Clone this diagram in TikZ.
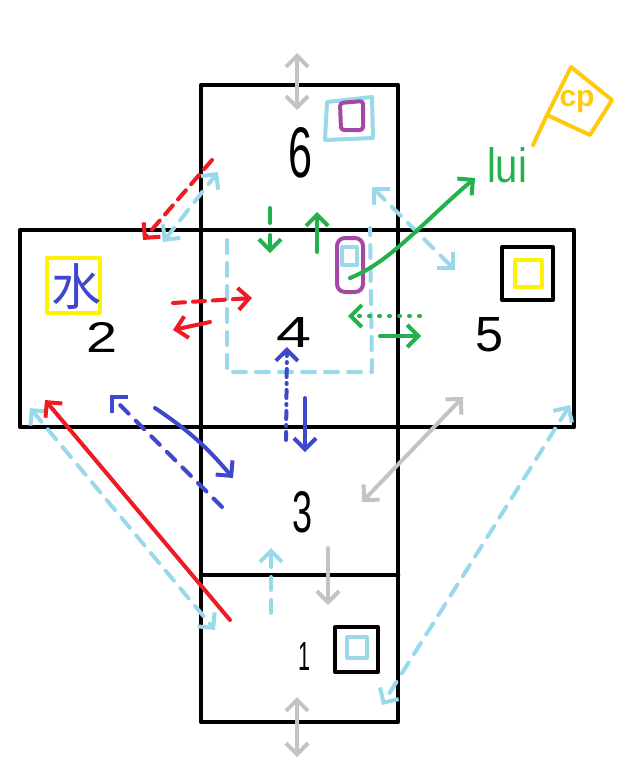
\documentclass[tikz,border=0pt]{standalone}
\usepackage{fontspec}
\usepackage{graphicx}
\setmainfont{Liberation Sans}
\newfontfamily\cjkfont{Noto Sans CJK SC}
\usetikzlibrary{arrows.meta}
\definecolor{cred}{HTML}{ED1C24}
\definecolor{cblue}{HTML}{3F48CC}
\definecolor{clblue}{HTML}{99D9EA}
\definecolor{cgray}{HTML}{C3C3C3}
\definecolor{cgreen}{HTML}{22B14C}
\definecolor{cpurple}{HTML}{A349A4}
\definecolor{cyellow}{HTML}{FFF200}
\definecolor{cgold}{HTML}{FFC90E}
\tikzset{
  frame/.style={draw=black,line width=4.5pt,line cap=round,line join=round},
  pen/.style={line width=4pt,line cap=round,line join=round},
  icon/.style={line width=4pt,line cap=round,line join=round},
  lbdash/.style={dash pattern=on 13pt off 10pt},
  rdash/.style={dash pattern=on 12pt off 8pt},
  bdash/.style={dash pattern=on 12pt off 10pt},
  bdot/.style={dash pattern=on 8pt off 6pt on 1pt off 6pt},
  gdot/.style={dash pattern=on 1pt off 9pt},
  gshort/.style={dash pattern=on 15pt off 12pt},
  lab/.style={inner sep=0pt,text=black},
  >={Straight Barb[length=11pt,width=22pt]}
}
\begin{document}
\begin{tikzpicture}[x=1pt,y=-1pt]
\useasboundingbox (0,0) rectangle (634,763);
% ---- cube net frames ----
\draw[frame] (201,85) rectangle (398,722);
\draw[frame] (20,230) rectangle (574,427);
\draw[frame] (201,575) -- (398,575);
% ---- face labels ----
\node[lab] (f6) at (300,153) {\resizebox{24pt}{50pt}{6}};
\node[lab] (f2) at (102,337) {\resizebox{31pt}{30pt}{2}};
\node[lab] (f4) at (294,332) {\resizebox{35pt}{30pt}{4}};
\node[lab] (f5) at (489,335) {\resizebox{28pt}{34pt}{5}};
\node[lab] (f3) at (302,512) {\resizebox{20pt}{41pt}{3}};
\node[lab] (f1) at (304,656) {\resizebox{12pt}{28pt}{1}};
% ---- icons ----
\draw[icon,clblue] (327,102) -- (372,97) -- (373,138) -- (325,140) -- cycle;
\draw[icon,cpurple,rounded corners=3pt] (340,103) -- (363,101) -- (363,130) -- (341,130) -- cycle;
\draw[icon,cpurple,rounded corners=8pt] (337,238) rectangle (363,292);
\draw[icon,clblue] (342,247) rectangle (357,265);
\draw[icon,black] (502,247) rectangle (553,300);
\draw[icon,cyellow] (515,260) rectangle (542,287);
\draw[icon,cyellow] (47,258) rectangle (100,313);
\node[inner sep=0pt,text=cblue] (water) at (76,287) {\cjkfont\fontsize{50}{50}\selectfont 水};
\draw[icon,black] (335,627) rectangle (378,672);
\draw[icon,clblue] (347,637) rectangle (367,658);
% ---- flag ----
\draw[icon,cgold] (533,145) -- (547,115) -- (571,67) -- (612,100) -- (590,135) -- (547,115);
\node[inner sep=0pt,text=cgold] (cp) at (577,102) {\fontsize{30}{30}\selectfont\bfseries cp};
\node[inner sep=0pt,text=cgreen] (lui) at (507,165) {\resizebox{40pt}{35pt}{lui}};
% ---- coordinates ----
\coordinate (g1a) at (297,53);  \coordinate (g1b) at (297,110);
\coordinate (g2a) at (297,697); \coordinate (g2b) at (297,757);
\coordinate (g3a) at (463,397); \coordinate (g3b) at (362,502);
\coordinate (g4a) at (328,548); \coordinate (g4b) at (328,605);
\coordinate (lb1a) at (570,405); \coordinate (lb1b) at (382,705);
\coordinate (lb2a) at (271,613); \coordinate (lb2b) at (271,548);
\coordinate (lb3a) at (30,408);  \coordinate (lb3b) at (215,630);
\coordinate (lb4a) at (163,242); \coordinate (lb4b) at (218,172);
\coordinate (lb5a) at (372,187); \coordinate (lb5b) at (455,270);
\coordinate (u1) at (227,240); \coordinate (u2) at (227,372);
\coordinate (u3) at (372,372); \coordinate (u4) at (370,228);
\coordinate (r1a) at (230,620); \coordinate (r1b) at (45,400);
\coordinate (r2a) at (212,160); \coordinate (r2b) at (143,240);
\coordinate (r3a) at (173,303); \coordinate (r3b) at (252,298);
\coordinate (r4a) at (210,322); \coordinate (r4b) at (173,330);
\coordinate (b1a) at (155,408); \coordinate (b1b) at (233,478);
\coordinate (b2a) at (222,507); \coordinate (b2b) at (110,395);
\coordinate (b3a) at (286,440); \coordinate (b3b) at (287,347);
\coordinate (b4a) at (305,398); \coordinate (b4b) at (305,452);
\coordinate (gr1a) at (270,208); \coordinate (gr1b) at (270,253);
\coordinate (gr2a) at (317,252); \coordinate (gr2b) at (317,212);
\coordinate (gr3a) at (350,278); \coordinate (gr3b) at (475,178);
\coordinate (gr4a) at (420,316); \coordinate (gr4b) at (348,316);
\coordinate (gr5a) at (380,336); \coordinate (gr5b) at (421,336);
% ---- gray ----
\draw[pen,cgray,<->] (g1a) -- (g1b);
\draw[pen,cgray,<->] (g2a) -- (g2b);
\draw[pen,cgray,<->] (g3a) -- (g3b);
\draw[pen,cgray,->] (g4a) -- (g4b);
% ---- light blue ----
\draw[pen,clblue,lbdash,<->] (lb1a) -- (lb1b);
\draw[pen,clblue,lbdash,->] (lb2a) -- (lb2b);
\draw[pen,clblue,lbdash,<->] (lb3a) -- (lb3b);
\draw[pen,clblue,lbdash,<->] (lb4a) -- (lb4b);
\draw[pen,clblue,lbdash,<->] (lb5a) -- (lb5b);
\draw[pen,clblue,lbdash] (u1) -- (u2) -- (u3) -- (u4);
% ---- red ----
\draw[pen,cred,->] (r1a) -- (r1b);
\draw[pen,cred,rdash,->] (r2a) -- (r2b);
\draw[pen,cred,rdash,->] (r3a) -- (r3b);
\draw[pen,cred,->] (r4a) -- (r4b);
% ---- blue ----
\draw[pen,cblue,->] (b1a) to[bend left=8] (b1b);
\draw[pen,cblue,bdash,->] (b2a) -- (b2b);
\draw[pen,cblue,bdot,->] (b3a) -- (b3b);
\draw[pen,cblue,->] (b4a) -- (b4b);
% ---- green ----
\draw[pen,cgreen,gshort,->] (gr1a) -- (gr1b);
\draw[pen,cgreen,->] (gr2a) -- (gr2b);
\draw[pen,cgreen,->] (gr3a) .. controls (390,262) and (420,225) .. (gr3b);
\draw[pen,cgreen,gdot,->] (gr4a) -- (gr4b);
\draw[pen,cgreen,->] (gr5a) -- (gr5b);
\end{tikzpicture}
\end{document}
